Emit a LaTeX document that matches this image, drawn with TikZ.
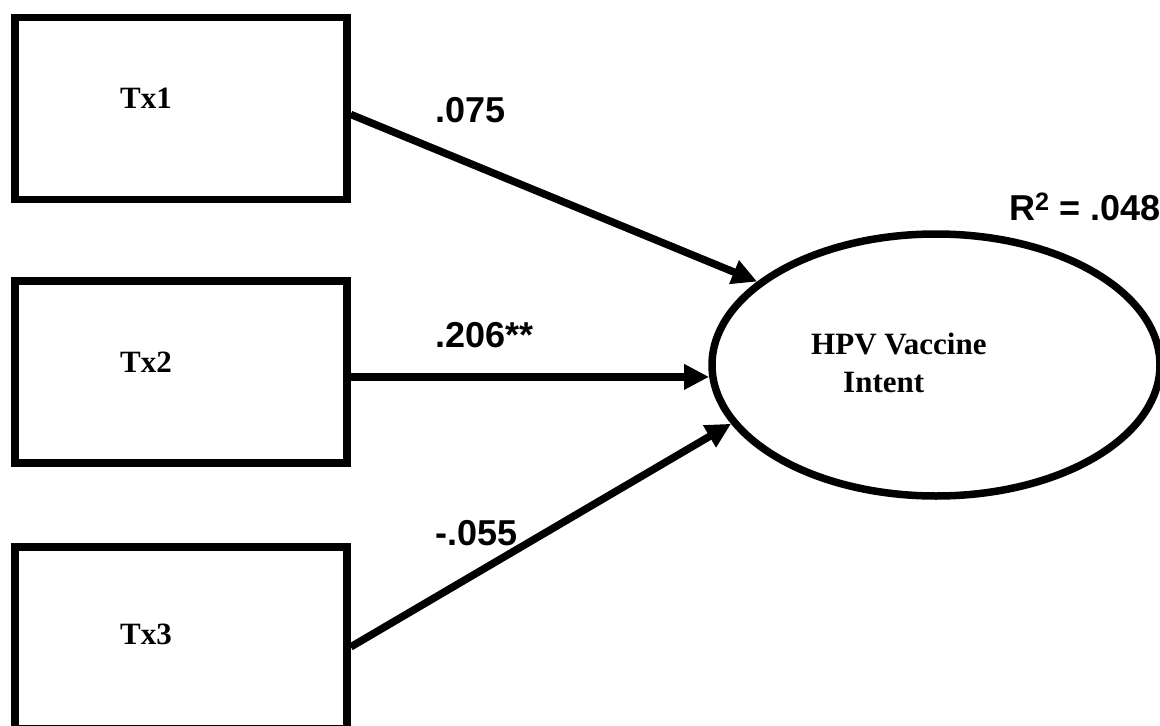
\documentclass[tikz,border=0pt]{standalone}
\usepackage{fontspec}
\setmainfont{Liberation Serif}
\newfontfamily\labelfont{Liberation Sans}
\usetikzlibrary{arrows.meta,shapes.geometric}

\tikzset{
  varbox/.style={draw, line width=7.5pt, rectangle, minimum width=332pt,
    minimum height=182pt, inner sep=0pt},
  latent/.style={draw, line width=7.5pt, ellipse, minimum width=448pt,
    minimum height=262pt, inner sep=0pt},
  vartext/.style={anchor=base west, inner sep=0pt,
    font=\fontsize{31}{36}\selectfont\bfseries},
  coef/.style={anchor=base west, inner sep=0pt,
    font=\labelfont\fontsize{36}{40}\selectfont\bfseries},
  path/.style={line width=7.5pt, -{Triangle[length=25pt,width=24pt]}}
}

\begin{document}
\begin{tikzpicture}[x=1pt, y=-1pt]
  \useasboundingbox (0,0) rectangle (1160,726);
  \clip (0,0) rectangle (1160,726);

  % observed predictors
  \node[varbox] (t1) at (181,108.5) {};
  \node[varbox] (t2) at (181,372) {};
  \node[varbox] (t3) at (181,638) {};
  \node[vartext] (t1txt) at (120,108) {Tx1};
  \node[vartext] (t2txt) at (120,372) {Tx2};
  \node[vartext] (t3txt) at (120,644) {Tx3};

  % outcome
  \node[latent] (hpv) at (936,365) {};
  \node[vartext] (hpvtxt1) at (811,354) {HPV Vaccine};
  \node[vartext] (hpvtxt2) at (843,392) {Intent};

  % structural paths
  \draw[path] (t1.-2.5) -- (hpv.155);
  \draw[path] (hpv.183 -| t2.east) -- (hpv.183);
  \draw[path] (t3.-3.7) -- (hpv.196.5);

  % path coefficients
  \node[coef] (c1) at (435,122) {.075};
  \node[coef] (c2) at (435,347) {.206**};
  \node[coef] (c3) at (435,545) {-.055};
  \node[coef] (rsq) at (1009,220) {R\textsuperscript{2} = .048};
\end{tikzpicture}
\end{document}
